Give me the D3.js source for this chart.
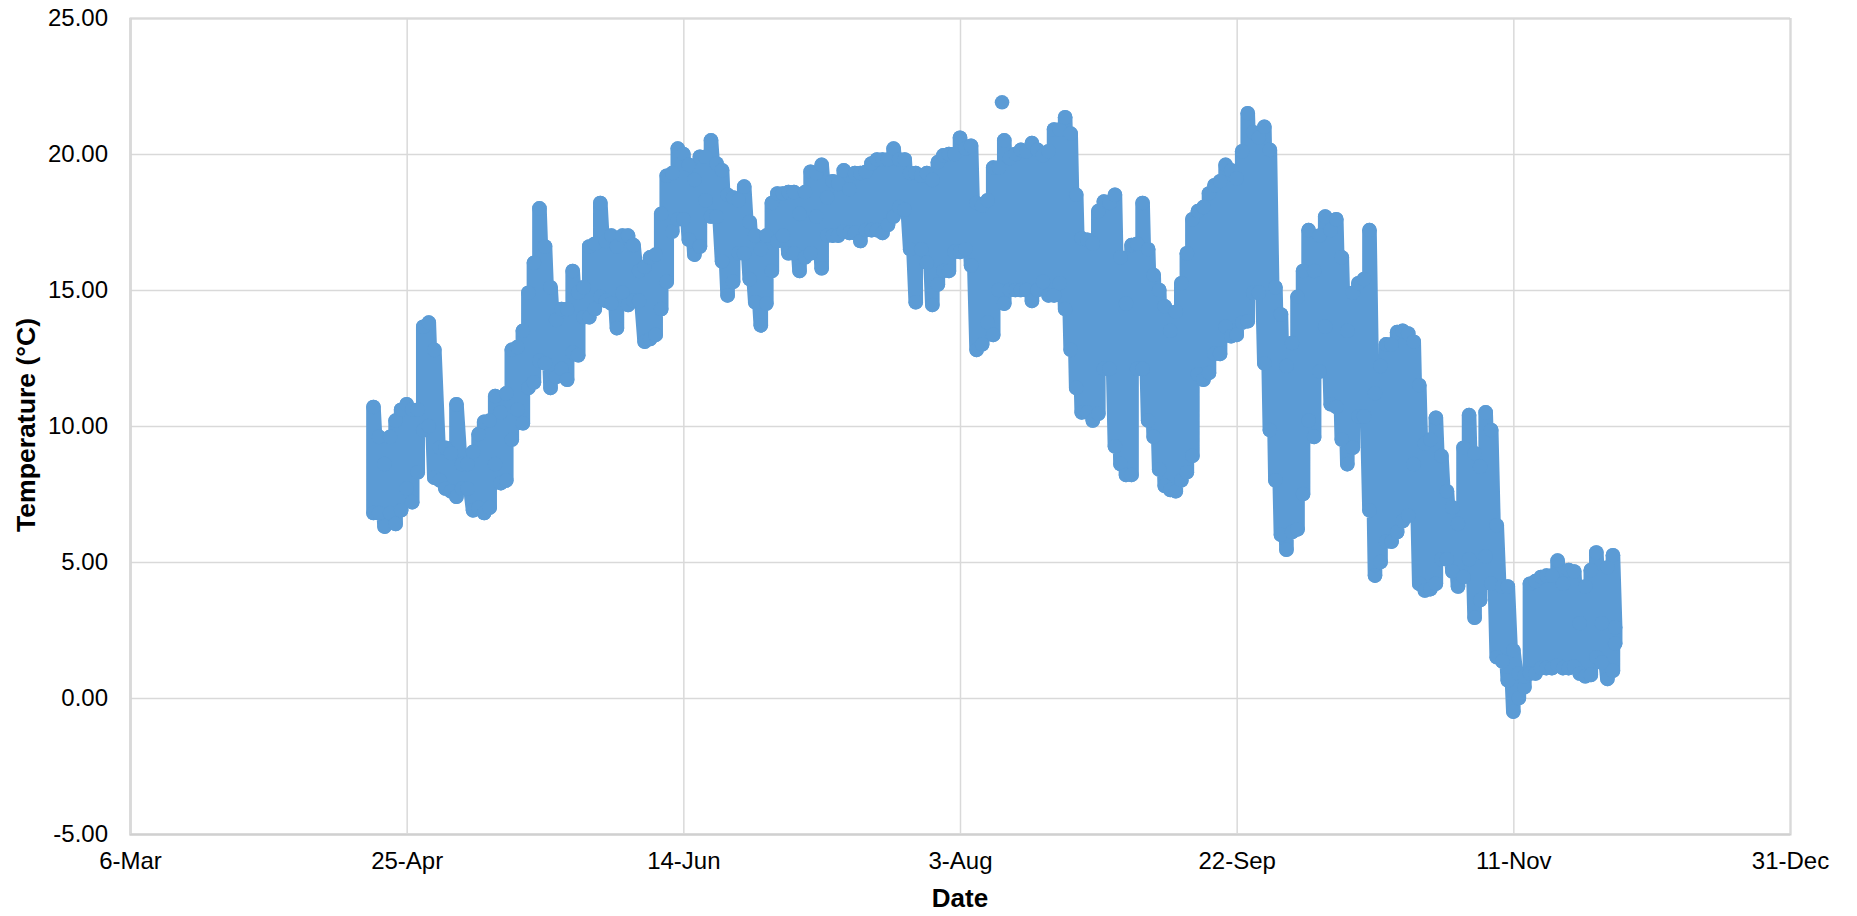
<!DOCTYPE html>
<html><head><meta charset="utf-8">
<script src="https://cdn.jsdelivr.net/npm/d3@7"></script>
<style>html,body{margin:0;padding:0;background:#fff}svg{display:block}text{font-family:"Liberation Sans",Arial,sans-serif;fill:#000}</style>
</head><body><svg id="c" width="1857" height="916"></svg>
<script>
// Calendar days counted from 6-Mar
const firstDay = 44;
const dailyLow = [6.8,6.8,6.3,6.8,6.4,6.9,7.7,7.2,8.3,9.85,10.0,8.1,8.0,7.7,7.6,7.4,7.7,7.7,6.9,7.0,6.8,7.0,8.6,7.9,8.0,9.5,10.6,10.1,11.4,11.6,12.4,12.3,11.4,11.8,12.1,11.7,
12.7,12.6,14.0,14.0,14.3,14.75,14.6,14.5,13.6,14.9,14.45,14.6,14.6,13.1,13.2,13.35,14.3,15.3,17.15,17.6,17.6,16.85,16.3,16.6,18.3,17.7,17.7,16.05,14.8,15.3,16.35,16.35,15.4,14.55,13.7,14.5,15.7,16.8,
17.0,16.35,16.35,15.7,16.2,16.35,17.7,15.8,17.0,17.0,17.0,17.15,17.1,17.1,16.8,17.2,17.2,17.2,17.1,17.4,17.7,18.05,17.95,16.5,14.55,16.5,16.0,14.45,15.2,15.7,15.7,16.4,16.4,16.5,15.9,12.8,13.0,
13.8,13.35,15.0,14.5,15.0,15.0,15.0,15.0,14.6,15.0,15.3,14.8,14.8,15.25,14.3,12.8,11.4,10.5,10.5,10.2,10.45,12.1,12.1,9.25,8.6,8.2,8.2,12.1,12.1,10.2,9.6,8.4,7.8,7.65,7.6,8.0,8.3,
8.9,11.9,11.7,11.95,12.65,12.65,13.65,13.3,13.35,13.8,13.85,14.9,14.9,12.3,9.85,8.0,6.0,5.45,6.1,6.2,7.5,10.2,9.6,12.0,13.65,10.8,10.7,9.5,8.6,9.2,10.35,10.35,6.9,4.5,5.0,5.75,5.75,
6.1,6.5,6.7,8.6,4.2,3.95,4.0,4.2,5.1,5.1,4.65,4.1,4.45,5.1,2.95,3.6,5.2,4.2,1.5,1.35,0.65,-0.5,0.0,0.4,0.9,0.9,1.1,1.1,1.1,1.2,1.1,1.1,1.15,0.9,0.8,0.85,1.5,1.3,0.7,1.0];
const dailyHigh = [10.7,9.6,8.6,9.6,10.2,10.6,10.8,10.6,10.6,13.65,13.8,12.8,9.2,9.2,9.0,10.8,8.6,8.6,9.05,9.7,10.15,10.2,11.1,10.5,11.2,12.8,12.9,13.5,14.9,16.0,18.0,16.6,15.1,13.9,14.3,14.3,
15.7,14.9,15.1,16.6,16.7,18.2,16.8,17.0,16.6,17.0,17.0,16.65,15.7,15.85,16.2,16.3,17.8,19.2,19.3,20.2,20.0,19.6,19.05,19.9,19.9,20.5,19.65,19.4,18.5,18.4,18.3,18.8,17.5,17.0,16.5,17.0,18.2,18.55,
18.55,18.6,18.6,17.8,18.6,19.35,19.3,19.6,18.4,19.0,18.9,19.4,18.7,19.3,19.3,19.35,19.65,19.8,19.8,19.8,20.2,19.8,19.8,19.3,19.3,19.2,19.3,19.05,19.7,19.95,20.0,20.0,20.6,20.2,20.3,18.2,18.1,
18.3,19.5,19.5,20.5,19.85,20.0,20.15,20.1,20.4,20.15,19.95,20.1,20.9,20.9,21.35,20.75,18.5,16.9,16.85,16.7,17.9,18.25,18.2,18.5,16.2,14.5,16.65,16.7,18.2,16.5,15.55,15.0,14.4,13.5,14.2,15.25,16.35,
17.6,17.9,18.05,18.55,18.85,19.0,19.6,19.4,19.1,20.1,21.5,20.8,20.6,21.0,20.15,15.1,14.1,12.2,13.05,14.75,15.7,17.2,15.7,17.0,17.7,17.2,17.6,16.2,13.5,14.9,15.25,15.4,17.2,11.2,12.2,13.0,13.0,
13.45,13.5,13.4,13.1,11.5,9.35,9.5,10.3,8.9,7.6,7.0,6.4,9.2,10.4,9.0,8.5,10.5,9.85,6.35,4.1,4.1,1.75,0.9,0.8,4.2,4.3,4.45,4.5,4.5,5.05,4.2,4.7,4.65,2.75,4.1,4.7,5.35,2.75,4.8,5.25];
const finalDays = [268.4,268.4];
const finalTemps = [2.6,2.0];
const outlierDay = [157.6];
const outlierTemp = [21.9];
const xTickDays = [0,50,100,150,200,250,300];
const yTicks = [-5,0,5,10,15,20,25];
const yTitle = "Temperature (°C)";
const xTitle = "Date";

const origin = Date.UTC(2017,2,6);
const toDate = d => new Date(origin + d*864e5);

const series = [];
dailyLow.forEach((lo,i)=>{
  series.push({d:firstDay+i,t:lo});
  series.push({d:firstDay+i,t:dailyHigh[i]});
});
finalDays.forEach((d,i)=>series.push({d,t:finalTemps[i]}));

const svg = d3.select("#c");
const x = d3.scaleUtc().domain([toDate(0),toDate(300)]).range([130,1790]);
const y = d3.scaleLinear().domain([-5,25]).range([834,18]);
const fmt = d3.utcFormat("%-d-%b");
const blue = "#5B9BD5", grid="#D9D9D9", R=7.3;

const gy = svg.append("g").attr("transform","translate(130,0)")
  .call(d3.axisLeft(y).tickValues(yTicks).tickFormat(v=>v.toFixed(2)).tickSize(-1660).tickPadding(22));
const gx = svg.append("g").attr("transform","translate(0,834)")
  .call(d3.axisBottom(x).tickValues(xTickDays.map(toDate)).tickFormat(fmt).tickSize(-816).tickPadding(18));
[gy,gx].forEach(g=>{
  g.selectAll(".tick line").attr("stroke",grid).attr("stroke-width",1.5);
  g.select(".domain").attr("stroke","#D0D0D0").attr("stroke-width",2);
  g.selectAll("text").style("font-size","24px");
});
gx.selectAll(".tick text").attr("dy","0.71em");

const line = d3.line().x(p=>x(toDate(p.d))).y(p=>y(p.t));
svg.append("path").datum(series).attr("d",line).attr("fill","none")
  .attr("stroke",blue).attr("stroke-width",R*2).attr("stroke-linejoin","round").attr("stroke-linecap","round");
svg.append("g").attr("fill",blue).selectAll("circle")
  .data(series.concat(outlierDay.map((d,i)=>({d,t:outlierTemp[i]})))).join("circle")
  .attr("cx",p=>x(toDate(p.d))).attr("cy",p=>y(p.t)).attr("r",R);

svg.append("text").attr("x",960).attr("y",907).attr("text-anchor","middle")
  .style("font-size","26px").style("font-weight","bold").text(xTitle);
svg.append("text").attr("transform","translate(35,425) rotate(-90)").attr("text-anchor","middle")
  .style("font-size","26.6px").style("font-weight","bold").text(yTitle);
</script></body></html>
